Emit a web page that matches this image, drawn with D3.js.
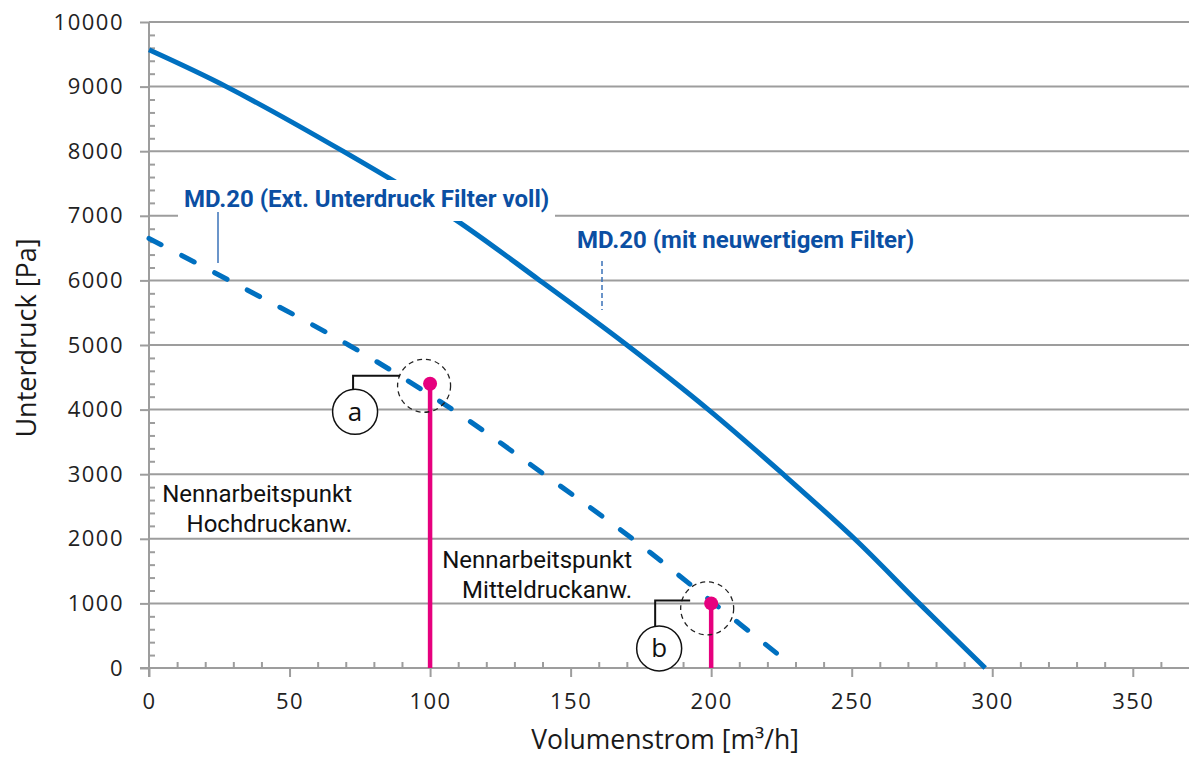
<!DOCTYPE html>
<html><head><meta charset="utf-8">
<script src="https://cdn.jsdelivr.net/npm/d3@7"></script>
<style>body{margin:0;background:#fff;overflow:hidden}</style>
</head><body><svg id="c" width="1189" height="758"></svg>
<script>
// ---- data ----
const xTicks = [0, 50, 100, 150, 200, 250, 300, 350];
const yTicks = [0, 1000, 2000, 3000, 4000, 5000, 6000, 7000, 8000, 9000, 10000];
const solidX = [0, 27.5, 69, 107, 139, 170, 199, 225.6, 251, 274, 297.5];
const solidY = [9570, 9000, 8000, 7000, 6000, 5000, 4000, 3000, 2000, 1000, 0];
const dashX = [0, 28.5, 71, 108, 140.5, 172, 201, 225];
const dashY = [6650, 6000, 5000, 4000, 3000, 2000, 1000, 170];
const pointNames = ["a", "b"];
const pointX = [100, 200];
const pointY = [4400, 1000];
const seriesLabels = ["MD.20 (Ext. Unterdruck Filter voll)", "MD.20 (mit neuwertigem Filter)"];
const noteLines = [["Nennarbeitspunkt", "Hochdruckanw."], ["Nennarbeitspunkt", "Mitteldruckanw."]];
const xTitle = "Volumenstrom [m³/h]";
const yTitle = "Unterdruck [Pa]";

// ---- setup ----
const svg = d3.select("#c");
const W = 1189, H = 758;
const x = d3.scaleLinear().domain([0, 370]).range([149, 1189]);
const y = d3.scaleLinear().domain([0, 10000]).range([668, 22]);
const grid = "#9d9d9d";
const blue = "#0070c0";
const labelBlue = "#0b4fa3";
const pink = "#e6007e";
const tickFont = g => g.selectAll("text").attr("font-family", "Open Sans").attr("font-size", 22)
  .attr("font-weight", 400).attr("letter-spacing", 1.5).attr("fill", "#222");

// gridlines
svg.append("g").selectAll("line").data(yTicks.filter(d => d > 0)).join("line")
  .attr("x1", x(0)).attr("x2", W).attr("y1", d => y(d)).attr("y2", d => y(d))
  .attr("stroke", grid).attr("stroke-width", 2);

// y minor ticks
const yMinor = d3.range(200, 10000, 200).filter(d => d % 1000 !== 0);
svg.append("g").attr("transform", `translate(${x(0)},0)`)
  .call(d3.axisRight(y).tickValues(yMinor).tickSize(6).tickFormat(""))
  .call(g => g.select(".domain").remove())
  .call(g => g.selectAll("line").attr("stroke", grid).attr("stroke-width", 2));
// x minor ticks
const xMinor = d3.range(10, 370, 10).filter(d => d % 50 !== 0);
svg.append("g").attr("transform", `translate(0,${y(0)})`)
  .call(d3.axisTop(x).tickValues(xMinor).tickSize(6).tickFormat(""))
  .call(g => g.select(".domain").remove())
  .call(g => g.selectAll("line").attr("stroke", grid).attr("stroke-width", 2));

// y axis
svg.append("g").attr("transform", `translate(${x(0)},0)`)
  .call(d3.axisLeft(y).tickValues(yTicks).tickFormat(d3.format("d")).tickSize(9).tickSizeOuter(0).tickPadding(16))
  .call(g => g.select(".domain").attr("stroke", grid).attr("stroke-width", 2).attr("d", `M0,${y(10000)}V${y(0) + 9}`))
  .call(g => g.selectAll("line").attr("stroke", grid).attr("stroke-width", 2))
  .call(tickFont);
// x axis
svg.append("g").attr("transform", `translate(0,${y(0)})`)
  .call(d3.axisBottom(x).tickValues(xTicks).tickFormat(d3.format("d")).tickSize(9).tickSizeOuter(0).tickPadding(16))
  .call(g => g.select(".domain").attr("stroke", grid).attr("stroke-width", 2).attr("d", `M${x(0) - 9},0H${W}`))
  .call(g => g.selectAll("line").attr("stroke", grid).attr("stroke-width", 2))
  .call(tickFont);

// axis titles
svg.append("text").attr("x", 665).attr("y", 749).attr("text-anchor", "middle")
  .attr("font-family", "Open Sans").attr("font-size", 26.5).attr("fill", "#1a1a1a").text(xTitle);
svg.append("text").attr("transform", `translate(36,${338}) rotate(-90)`).attr("text-anchor", "middle")
  .attr("font-family", "Open Sans").attr("font-size", 27).attr("fill", "#1a1a1a").text(yTitle);

// curves
const line = d3.line().x(d => x(d[0])).y(d => y(d[1])).curve(d3.curveCatmullRom.alpha(0.5));
svg.append("path").datum(solidX.map((v, i) => [v, solidY[i]])).attr("d", line)
  .attr("fill", "none").attr("stroke", blue).attr("stroke-width", 5);
svg.append("path").datum(dashX.map((v, i) => [v, dashY[i]])).attr("d", line)
  .attr("fill", "none").attr("stroke", blue).attr("stroke-width", 5)
  .attr("stroke-dasharray", "14 23").attr("stroke-linecap", "round");

// series labels
svg.append("rect").attr("x", 178).attr("y", 180).attr("width", 377).attr("height", 41).attr("fill", "#fff");
svg.append("text").attr("x", 184).attr("y", 207).attr("font-family", "Roboto").attr("font-weight", "bold")
  .attr("font-size", 24).attr("fill", labelBlue).text(seriesLabels[0]);
svg.append("line").attr("x1", 218).attr("x2", 218).attr("y1", 212).attr("y2", 263)
  .attr("stroke", "#3a72b8").attr("stroke-width", 1.5);
svg.append("text").attr("x", 577).attr("y", 248).attr("font-family", "Roboto").attr("font-weight", "bold")
  .attr("font-size", 24).attr("fill", labelBlue).text(seriesLabels[1]);
svg.append("line").attr("x1", 602).attr("x2", 602).attr("y1", 261).attr("y2", 310)
  .attr("stroke", "#3a72b8").attr("stroke-width", 1.5).attr("stroke-dasharray", "5 3");

// notes
const notePos = [[352, 502], [632, 568]];
noteLines.forEach((ls, i) => {
  const t = svg.append("text").attr("text-anchor", "end").attr("font-family", "Roboto")
    .attr("font-size", 24).attr("fill", "#111");
  ls.forEach((s, j) => t.append("tspan").attr("x", notePos[i][0]).attr("y", notePos[i][1] + j * 30).text(s));
});

// points and callouts
const callout = [
  { cx: -75, cy: 28, hx: -77, hy: -8, hx2: -30, dx: -6, dy: 2 },
  { cx: -52, cy: 45, hx: -56, hy: -3, hx2: -21, dx: -4, dy: 5 }
];
pointX.forEach((px0, i) => {
  const px = x(px0), py = y(pointY[i]);
  const c = callout[i];
  svg.append("line").attr("x1", px).attr("x2", px).attr("y1", py).attr("y2", y(0))
    .attr("stroke", pink).attr("stroke-width", 4.5);
  svg.append("circle").attr("cx", px).attr("cy", py).attr("r", 7).attr("fill", pink);
  svg.append("circle").attr("cx", px + c.dx).attr("cy", py + c.dy).attr("r", 26.5)
    .attr("fill", "none").attr("stroke", "#222").attr("stroke-width", 1.3).attr("stroke-dasharray", "5 4");
  svg.append("path").attr("d", `M${px + c.hx},${py + c.cy - 22.5}V${py + c.hy}H${px + c.hx2}`)
    .attr("fill", "none").attr("stroke", "#111").attr("stroke-width", 2);
  svg.append("circle").attr("cx", px + c.cx).attr("cy", py + c.cy).attr("r", 22.5)
    .attr("fill", "#fff").attr("stroke", "#111").attr("stroke-width", 1.5);
  svg.append("text").attr("x", px + c.cx).attr("y", py + c.cy + 9).attr("text-anchor", "middle")
    .attr("font-family", "Open Sans").attr("font-size", 26).attr("fill", "#111").text(pointNames[i]);
});
</script></body></html>
